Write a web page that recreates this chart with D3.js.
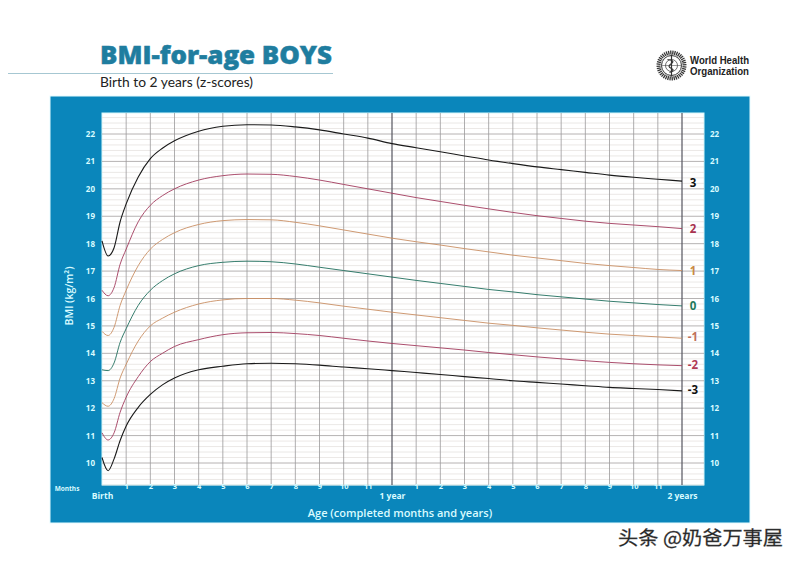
<!DOCTYPE html>
<html><head><meta charset="utf-8">
<script src="https://cdn.jsdelivr.net/npm/d3@7"></script>
<style>html,body{margin:0;background:#fff}svg{display:block}text{font-family:"Open Sans",sans-serif}</style>
</head><body><svg id="c" width="800" height="564"></svg>
<script>
const ages=[0,.25,.5,.75,1,1.5,2,2.5,3,4,5,6,7,8,9,10,11,12,13,14,15,16,17,18,19,20,21,22,23,24];
const z3=[18.1,17.55,17.85,18.8,19.45,20.43,21.1,21.48,21.75,22.1,22.28,22.34,22.33,22.26,22.15,22.0,21.85,21.65,21.5,21.35,21.2,21.05,20.92,20.8,20.7,20.6,20.5,20.42,20.35,20.28];
const z2=[16.3,16.1,16.4,17.25,17.8,18.8,19.4,19.75,20.0,20.32,20.48,20.54,20.53,20.45,20.32,20.16,20.0,19.84,19.68,19.54,19.4,19.27,19.14,19.02,18.92,18.82,18.74,18.68,18.62,18.55];
const z1=[14.8,14.65,14.95,15.75,16.3,17.2,17.8,18.15,18.4,18.7,18.84,18.88,18.87,18.78,18.65,18.5,18.35,18.2,18.07,17.95,17.82,17.7,17.58,17.48,17.38,17.28,17.2,17.13,17.06,17.02];
const z0=[13.4,13.37,13.65,14.4,14.9,15.75,16.3,16.65,16.9,17.2,17.32,17.36,17.34,17.26,17.14,17.02,16.9,16.78,16.66,16.55,16.44,16.33,16.24,16.14,16.06,15.98,15.9,15.84,15.78,15.73];
const zm1=[12.2,12.07,12.35,13.1,13.6,14.45,15.0,15.28,15.5,15.8,15.95,16.0,16.0,15.94,15.84,15.72,15.61,15.5,15.4,15.3,15.2,15.1,15.02,14.93,14.85,14.77,14.7,14.65,14.6,14.55];
const zm2=[11.1,10.84,11.1,11.85,12.4,13.15,13.7,14.0,14.25,14.5,14.68,14.75,14.76,14.72,14.65,14.55,14.45,14.36,14.28,14.2,14.12,14.03,13.95,13.87,13.8,13.73,13.67,13.62,13.58,13.55];
const zm3=[10.2,9.72,10.15,10.82,11.35,12.03,12.5,12.85,13.1,13.4,13.53,13.62,13.64,13.62,13.57,13.5,13.44,13.37,13.3,13.23,13.15,13.08,13.0,12.94,12.88,12.82,12.76,12.72,12.68,12.63];
const seriesValues=[z3,z2,z1,z0,zm1,zm2,zm3];
const seriesNames=["3","2","1","0","-1","-2","-3"];
const seriesColors=["#1a1a1a","#a23a5c","#c98f63","#1f6e5c","#c98f63","#a23a5c","#1a1a1a"];
const labelColors=["#111","#a8324f","#c98a45","#1f7a5c","#c0705a","#b03a55","#111"];
const bmiTicks=[10,11,12,13,14,15,16,17,18,19,20,21,22];
const monthTicks=[1,2,3,4,5,6,7,8,9,10,11,13,14,15,16,17,18,19,20,21,22,23];
const monthLabels=[1,2,3,4,5,6,7,8,9,10,11,1,2,3,4,5,6,7,8,9,10,11];
const yearTicks=[0,12,24];
const yearLabels=["Birth","1 year","2 years"];

const svg=d3.select("#c");
const x=d3.scaleLinear().domain([0,24]).range([102,682]);
const y=d3.scaleLinear().domain([10,22]).range([463,134]);
const L=102,R=704,T=113,B=485;
const pale="#d9fbff";

svg.append("rect").attr("x",50).attr("y",96).attr("width",700).attr("height",427).attr("fill","#0a86bb").attr("stroke","#e6fcff").attr("stroke-width",1);
svg.append("rect").attr("x",L).attr("y",T).attr("width",R-L).attr("height",B-T).attr("fill","#fff").attr("stroke","#d5f7fb").attr("stroke-width",1);

const minor=d3.range(Math.round(9.2*5),Math.round(22.8*5)+1).map(d=>d/5).filter(d=>y(d)>T&&y(d)<B);
const gridG=svg.append("g");
gridG.selectAll(".mi").data(minor.filter(d=>Math.abs(d-Math.round(d))>.01)).join("line")
 .attr("x1",L).attr("x2",R).attr("y1",d=>y(d)).attr("y2",d=>y(d)).attr("stroke","#e6e2e0").attr("stroke-width",.8);
gridG.selectAll(".ma").data(minor.filter(d=>Math.abs(d-Math.round(d))<=.01)).join("line")
 .attr("x1",L).attr("x2",R).attr("y1",d=>y(d)).attr("y2",d=>y(d)).attr("stroke","#a3a0a0").attr("stroke-width",.8);
gridG.selectAll(".v").data(monthTicks).join("line")
 .attr("x1",d=>x(d)).attr("x2",d=>x(d)).attr("y1",T).attr("y2",B).attr("stroke","#9b999a").attr("stroke-width",.8);
gridG.selectAll(".y").data([12,24]).join("line")
 .attr("x1",d=>x(d)).attr("x2",d=>x(d)).attr("y1",T).attr("y2",B).attr("stroke","#55555f").attr("stroke-width",1.2);

const line=d3.line().x((d,i)=>x(ages[i])).y(d=>y(d)).curve(d3.curveMonotoneX);
svg.append("g").selectAll("path").data(seriesValues).join("path")
 .attr("d",line).attr("fill","none").attr("stroke-linejoin","round").attr("stroke",(d,i)=>seriesColors[i]).attr("stroke-width",(d,i)=>(i==0||i==6)?1.1:.9);
svg.append("g").selectAll("text").data(seriesValues).join("text")
 .attr("x",693).attr("y",(d,i)=>y(d[d.length-1])+(i<1?3:i<4?1.5:0)).attr("text-anchor","middle").attr("dominant-baseline","middle")
 .attr("font-size",11.5).attr("font-weight",700).attr("fill",(d,i)=>labelColors[i]).text((d,i)=>seriesNames[i]);

function styleAxis(g,size){g.select(".domain").remove();g.selectAll("line").remove();
 g.selectAll("text").attr("fill",pale).attr("font-size",size).attr("font-weight",700).style("font-family",'"Open Sans",sans-serif');}
svg.append("g").attr("transform","translate(95,0)").call(d3.axisLeft(y).tickValues(bmiTicks).tickSize(0).tickPadding(0).tickFormat(d3.format("d"))).call(g=>styleAxis(g,8));
svg.append("g").attr("transform","translate(710,0)").call(d3.axisRight(y).tickValues(bmiTicks).tickSize(0).tickPadding(0).tickFormat(d3.format("d"))).call(g=>styleAxis(g,8));
svg.append("g").attr("transform","translate(0,484)").call(d3.axisBottom(x).tickValues(monthTicks).tickSize(0).tickPadding(0).tickFormat((d,i)=>monthLabels[i])).call(g=>styleAxis(g,7.5));
svg.append("g").attr("transform","translate(0,493)").call(d3.axisBottom(x).tickValues(yearTicks).tickSize(0).tickPadding(0).tickFormat((d,i)=>yearLabels[i])).call(g=>styleAxis(g,8.5));

svg.append("text").attr("x",67).attr("y",491).attr("text-anchor","middle").attr("fill",pale).attr("font-size",6.5).attr("font-weight",700).text("Months");
svg.append("text").attr("x",400).attr("y",517).attr("text-anchor","middle").attr("fill",pale).attr("font-size",11).attr("font-weight",600).text("Age (completed months and years)");
svg.append("text").attr("transform","translate(73,296) rotate(-90)").attr("text-anchor","middle").attr("fill",pale).attr("font-size",10.5).attr("font-weight",600).text("BMI (kg/m²)");

svg.append("text").attr("x",100).attr("y",64).attr("fill","#1f7d9f").attr("stroke","#1f7d9f").attr("stroke-width",.5).attr("font-size",25).attr("font-weight",800).attr("textLength",232).attr("lengthAdjust","spacingAndGlyphs").text("BMI-for-age BOYS");
svg.append("line").attr("x1",8).attr("x2",333).attr("y1",73.5).attr("y2",73.5).attr("stroke","#8fb9c6").attr("stroke-width",.8);
svg.append("text").attr("x",100).attr("y",87).attr("fill","#222").attr("font-size",13.5).attr("textLength",153).attr("lengthAdjust","spacingAndGlyphs").style("font-family","Lato,sans-serif").text("Birth to 2 years (z-scores)");

const lg=svg.append("g").attr("transform","translate(671.5,65.5)").attr("fill","none").attr("stroke","#333");
lg.append("circle").attr("r",10).attr("stroke-width",1);
lg.append("circle").attr("r",6).attr("stroke-width",.7);
lg.append("line").attr("x1",-10).attr("x2",10).attr("stroke-width",.5);
lg.append("line").attr("y1",-11).attr("y2",11).attr("stroke-width",1.2);
lg.append("path").attr("d","M-4,-6Q4,-5 0,-2Q-5,1 0,3Q4,5 -2,7").attr("stroke-width",1.2);
lg.selectAll(".leaf").data(d3.range(-84,90,9).flatMap(a=>[a,180+a])).join("line")
 .attr("x1",d=>11*Math.cos(d*Math.PI/180)).attr("y1",d=>11*Math.sin(d*Math.PI/180))
 .attr("x2",d=>15*Math.cos(d*Math.PI/180)).attr("y2",d=>15*Math.sin(d*Math.PI/180)).attr("stroke-width",1.3);
svg.append("text").attr("x",690).attr("y",64).attr("fill","#222").attr("font-size",10).attr("font-weight",600).attr("textLength",59).attr("lengthAdjust","spacingAndGlyphs").style("font-family",'"Liberation Sans",sans-serif').text("World Health");
svg.append("text").attr("x",690).attr("y",75).attr("fill","#222").attr("font-size",10).attr("font-weight",600).attr("textLength",59).attr("lengthAdjust","spacingAndGlyphs").style("font-family",'"Liberation Sans",sans-serif').text("Organization");

svg.append("text").attr("x",618).attr("y",545).attr("fill","#222").attr("stroke","#555").attr("stroke-width",.3).attr("font-size",19).attr("textLength",165).attr("lengthAdjust","spacingAndGlyphs").style("font-family",'"Noto Sans CJK SC",sans-serif').text("头条 @奶爸万事屋");
</script></body></html>
